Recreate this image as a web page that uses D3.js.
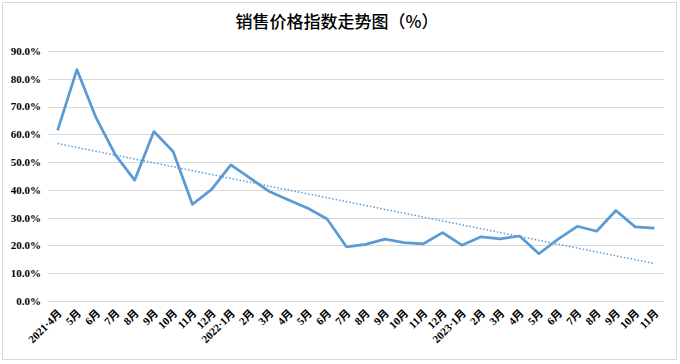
<!DOCTYPE html>
<html>
<head>
<meta charset="utf-8">
<script src="https://cdn.jsdelivr.net/npm/d3@7"></script>
<style>
  body { margin: 0; background: #fff; }
  svg text { fill: #000; }
</style>
</head>
<body>
<div id="chart"></div>
<script>
let months = ["2021·4月","5月","6月","7月","8月","9月","10月","11月","12月",
  "2022·1月","2月","3月","4月","5月","6月","7月","8月","9月","10月","11月","12月",
  "2023·1月","2月","3月","4月","5月","6月","7月","8月","9月","10月","11月"];
let values = [61.4, 83.3, 65.9, 52.6, 43.5, 61.0, 53.8, 34.8, 40.2,
  49.0, 44.2, 39.4, 36.4, 33.4, 29.5, 19.5, 20.4, 22.3, 21.0, 20.6, 24.6,
  20.1, 23.1, 22.4, 23.4, 17.0, 22.3, 26.9, 25.1, 32.6, 26.7, 26.2];
let yTicks = [0, 10, 20, 30, 40, 50, 60, 70, 80, 90];

let W = 680, H = 364;
let margin = { top: 51, right: 16, bottom: 63, left: 48 };
let width = W - margin.left - margin.right;
let height = H - margin.top - margin.bottom;

let svg = d3.select("#chart").append("svg")
  .attr("width", W).attr("height", H);

// outer frame
svg.append("rect")
  .attr("x", 2.5).attr("y", 2.5)
  .attr("width", 674).attr("height", 357)
  .attr("fill", "none").attr("stroke", "#d9d9d9");

svg.append("text")
  .attr("x", 337).attr("y", 28)
  .attr("text-anchor", "middle")
  .style("font-family", "'Noto Sans CJK SC'")
  .style("font-size", "17px")
  .style("font-weight", 500)
  .text("销售价格指数走势图（%）");

let g = svg.append("g")
  .attr("transform", "translate(" + margin.left + "," + margin.top + ")");

let x = d3.scaleBand().domain(months.map((d, i) => i)).range([0, width]);
let y = d3.scaleLinear().domain([0, 90]).range([height, 0]);

// gridlines + y labels
g.selectAll(".grid").data(yTicks).enter().append("line")
  .attr("x1", 0).attr("x2", width)
  .attr("y1", d => Math.round(y(d)) + 0.5).attr("y2", d => Math.round(y(d)) + 0.5)
  .attr("stroke", "#d9d9d9").attr("stroke-width", 1);

g.selectAll(".ylab").data(yTicks).enter().append("text")
  .attr("x", -7).attr("y", d => y(d))
  .attr("dy", "0.35em")
  .attr("text-anchor", "end")
  .style("font-family", "'Liberation Serif'")
  .style("font-weight", "bold")
  .style("font-size", "11px")
  .text(d => d.toFixed(1) + "%");

// x labels
g.selectAll(".xlab").data(months).enter().append("text")
  .attr("text-anchor", "end")
  .attr("transform", (d, i) => "translate(" + (x(i) + x.bandwidth() / 2 + 5) + "," + (height + 13) + ") rotate(-45)")
  .style("font-family", "'Liberation Serif', 'Noto Sans CJK SC'")
  .style("font-weight", "bold")
  .style("font-size", "11px")
  .text(d => d);

let cx = i => x(i) + x.bandwidth() / 2;

// linear trend from the data
let n = values.length;
let mx = d3.mean(values, (d, i) => i);
let my = d3.mean(values);
let sxy = d3.sum(values, (d, i) => (i - mx) * (d - my));
let sxx = d3.sum(values, (d, i) => (i - mx) * (i - mx));
let slope = sxy / sxx;
let icpt = my - slope * mx;

g.append("line")
  .attr("x1", cx(0)).attr("y1", y(icpt))
  .attr("x2", cx(n - 1)).attr("y2", y(icpt + slope * (n - 1)))
  .attr("stroke", "#5b9bd5").attr("stroke-width", 1.5)
  .attr("stroke-dasharray", "1.5,2");

let line = d3.line().x((d, i) => cx(i)).y(d => y(d));
g.append("path").datum(values)
  .attr("d", line)
  .attr("fill", "none")
  .attr("stroke", "#5b9bd5")
  .attr("stroke-width", 2.75)
  .attr("stroke-linejoin", "round");
</script>
</body>
</html>
